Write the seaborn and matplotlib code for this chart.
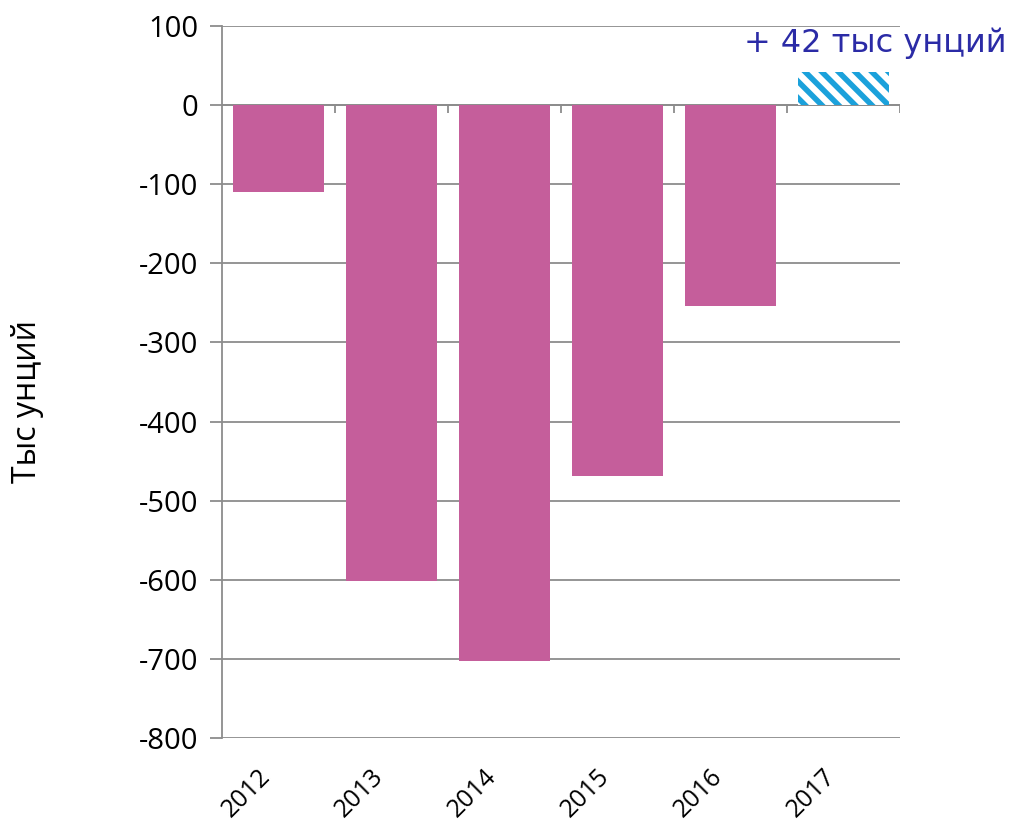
import matplotlib
matplotlib.use("Agg")
import matplotlib.pyplot as plt
import matplotlib.transforms as mtransforms
import seaborn as sns
import pandas as pd

# data
years = ["2012", "2013", "2014", "2015", "2016", "2017"]
values = [-110, -602, -703, -469, -254, 42]
bar_colors = ["#C55E9B", "#C55E9B", "#C55E9B", "#C55E9B", "#C55E9B", "#FFFFFF"]
y_ticks = [100, 0, -100, -200, -300, -400, -500, -600, -700, -800]
note_text = "+ 42 тыс унций"
y_title = "Тыс унций"

sns.set_theme(style="white")
plt.rcParams["font.family"] = ["Open Sans", "DejaVu Sans"]
plt.rcParams["hatch.linewidth"] = 4

grid_color = "#8C8C8C"
hatch_blue = "#1BA1DB"

df = pd.DataFrame({"year": years, "value": values})

fig = plt.figure(figsize=(10.15, 8.24), dpi=100)
ax = fig.add_axes([0.2187, 0.1044, 0.668, 0.8640])

sns.barplot(data=df, x="year", y="value", hue="year", palette=bar_colors,
            legend=False, width=0.8, saturation=1, ax=ax, zorder=3)

# last bar is the hatched forecast
last = ax.patches[-1]
last.set_hatch("\\\\")
last.set_edgecolor(hatch_blue)
last.set_linewidth(0)
last.set_facecolor("white")
for p in ax.patches[:-1]:
    p.set_linewidth(0)

ax.set_xlim(-0.5, 5.5)
ax.set_ylim(-800, 100)
ax.set_yticks(y_ticks)
ax.set_yticklabels([str(v) for v in y_ticks], fontsize=21)
ax.yaxis.grid(True, color=grid_color, linewidth=1.3, zorder=0)
ax.set_axisbelow(True)

# zero axis with small category ticks
ax.axhline(0, color=grid_color, linewidth=1.3, zorder=2)
ax.vlines([i + 0.5 for i in range(len(years))], -10, 0, color=grid_color,
          linewidth=1.3, zorder=2)

for side in ["top", "right"]:
    ax.spines[side].set_visible(False)
ax.spines["left"].set_color(grid_color)
ax.spines["left"].set_linewidth(1.3)
ax.spines["bottom"].set_visible(False)

ax.tick_params(axis="y", which="major", left=True, length=9, width=1.3,
               color=grid_color, pad=8, labelcolor="black")
ax.tick_params(axis="x", which="major", bottom=False, pad=12)
ax.set_xticks(range(len(years)))
ax.set_xticklabels(years, rotation=45, fontsize=18, ha="right", va="center",
                   rotation_mode="anchor", color="black")
shift = mtransforms.ScaledTranslation(-0.12, -0.1, fig.dpi_scale_trans)
for lbl in ax.get_xticklabels():
    lbl.set_transform(lbl.get_transform() + shift)

ax.set_xlabel("")
ax.set_ylabel(y_title, fontsize=23, color="black")
ax.yaxis.set_label_coords(-0.262, 0.472)

ax.text(5.28, 78, note_text, ha="center", va="center", fontsize=23,
        color="#2B2BA6", family=["DejaVu Sans"], clip_on=False)

fig.savefig("out.png", dpi=100)
